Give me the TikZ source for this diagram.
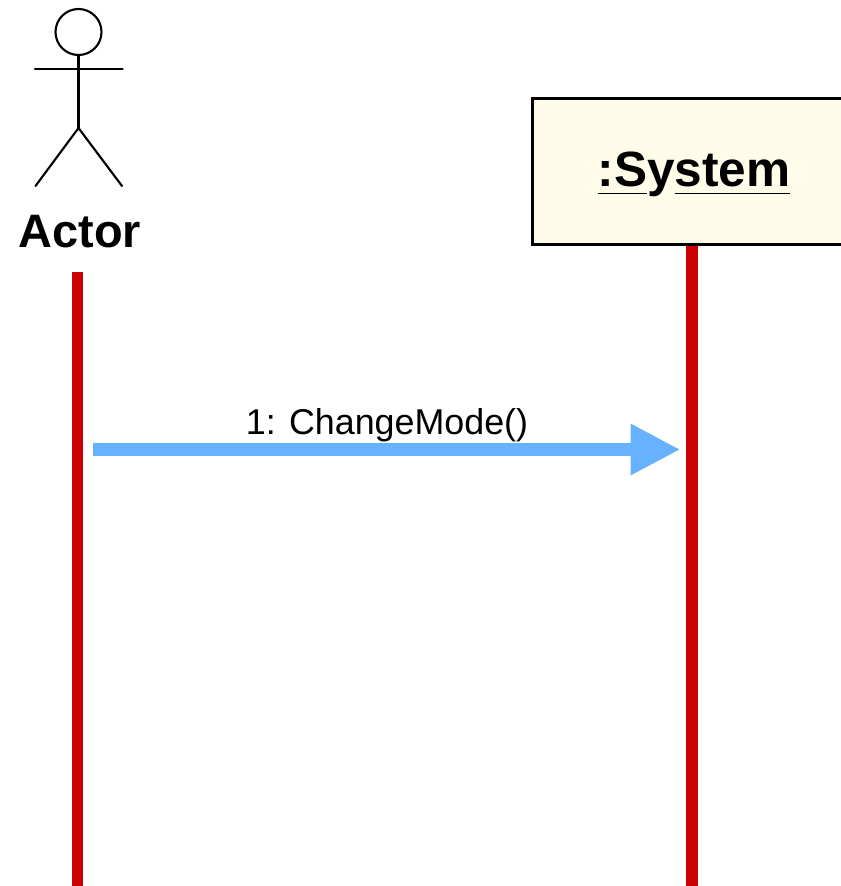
\documentclass[tikz,border=0pt]{standalone}
\usepackage{fontspec}
\setmainfont{Liberation Sans}
\usetikzlibrary{arrows.meta}
\definecolor{lifered}{HTML}{CC0000}
\definecolor{msgblue}{HTML}{66B2FF}
\definecolor{boxyellow}{HTML}{FFFDE9}
\newcommand{\lowline}[1]{\underline{\vrule width 0pt depth 2pt #1}}
\tikzset{
  figure/.style={line width=1.2pt,line cap=round},
  lifeline/.style={lifered,line width=0.24cm},
  message/.style={msgblue,line width=0.26cm,-{Triangle[length=1cm,width=0.96cm]}},
  actortext/.style={font=\fontsize{26.7pt}{30pt}\selectfont\bfseries},
  systemtext/.style={font=\fontsize{28.2pt}{32pt}\selectfont\bfseries}
}
\begin{document}
\begin{tikzpicture}[x=0.02cm,y=-0.02cm]
            \useasboundingbox (0,0) rectangle (841,886);
            \clip (0,0) rectangle (841,886);
            \def\actorx{78.5} \def\systemx{692} \def\msgy{449.5}
            % stick figure
            \draw [figure](\actorx,32) circle (23);
            \draw [figure](\actorx,55)--(\actorx,128) (35,69)--(122.5,69);
            \draw [figure](35.5,186)--(\actorx,128)--(122,186);
            \draw (80,232) node (actorlabel) [actortext,inner sep=0pt]{Actor};
            % lifelines
            \coordinate (actorstart) at (77.5,272);
            \coordinate (actorend) at (77.5,886);
            \coordinate (systemend) at (\systemx,886);
            \draw (694,171.5) node (system) [draw,line width=0.06cm,fill=boxyellow,minimum width=6.48cm,minimum height=2.94cm,inner sep=0pt,text height=20.6pt,text depth=3pt,systemtext]{\lowline{:S}y\lowline{stem}};
            \draw [lifeline](actorstart)--(actorend);
            \draw [lifeline](system.south-|systemend)--(systemend);
            % message
            \coordinate (msgstart) at (93,\msgy);
            \coordinate (msgend) at (680.5,\msgy);
            \draw [message](msgstart)--(msgend);
            \draw (387,434) node (msglabel) [anchor=base,inner sep=0pt,font=\fontsize{20.4pt}{24pt}\selectfont]{1: ChangeMode()};
        \end{tikzpicture}
\end{document}
